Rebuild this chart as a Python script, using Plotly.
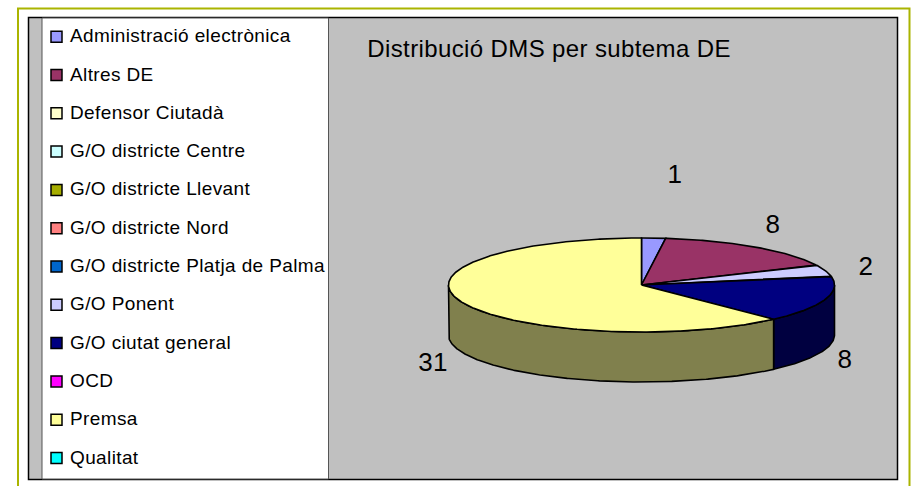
import numpy as np
import plotly.graph_objects as go

# categories in legend order, values
categories = ['Administració electrònica', 'Altres DE', 'Defensor Ciutadà', 'G/O districte Centre',
              'G/O districte Llevant', 'G/O districte Nord', 'G/O districte Platja de Palma', 'G/O Ponent',
              'G/O ciutat general', 'OCD', 'Premsa', 'Qualitat']
values = [1, 8, 0, 0, 0, 0, 0, 2, 8, 0, 31, 0]
colors = ['#9999FF', '#993366', '#FFFFCC', '#CCFFFF', '#A6AD00', '#FF8080', '#0066CC', '#CCCCFF',
          '#000080', '#FF00FF', '#FFFF99', '#00FFFF']
side_colors = {'#000080': '#000040', '#FFFF99': '#80804D'}
title = 'Distribució DMS per subtema DE'

CX, CY, RX, RY, DEPTH = 641.5, 285, 193, 47, 50
FONT = 'Liberation Sans, Arial, sans-serif'
# where the data labels sit, one per non-zero slice
label_pos = [(675, 176), (773, 226), (866, 268), (845, 361), (433, 364)]

fig = go.Figure()


def rim(a0, a1):
    # angles clockwise from the top, projected onto the pie's ellipse
    t = np.radians(np.linspace(a0, a1, max(int(abs(a1 - a0)) * 2, 2)))
    return CX + RX * np.sin(t), CY - RY * np.cos(t)


angles = np.cumsum([0] + values) * 360 / sum(values)

# outer wall, only the front half shows
for i, v in enumerate(values):
    a0, a1 = max(angles[i], 90), min(angles[i + 1], 270)
    if v == 0 or a1 <= a0:
        continue
    x, y = rim(a0, a1)
    fig.add_trace(go.Scatter(
        x=np.r_[x, x[::-1], x[0]], y=np.r_[y, y[::-1] + DEPTH, y[0]],
        mode='lines', fill='toself', fillcolor=side_colors.get(colors[i], colors[i]),
        line=dict(color='black', width=1.6), hoverinfo='skip'))

# top of the pie
for i, v in enumerate(values):
    if v == 0:
        continue
    x, y = rim(angles[i], angles[i + 1])
    fig.add_trace(go.Scatter(
        x=np.r_[CX, x, CX], y=np.r_[CY, y, CY],
        mode='lines', fill='toself', fillcolor=colors[i],
        line=dict(color='black', width=1.6), name=categories[i], hoverinfo='name'))

# data labels
nonzero = [v for v in values if v > 0]
fig.add_trace(go.Scatter(x=[p[0] for p in label_pos], y=[p[1] for p in label_pos], mode='text',
                         text=[str(v) for v in nonzero],
                         textfont=dict(family=FONT, size=26, color='black'), hoverinfo='skip'))

# legend
legend_y = [36.7 + 38.3 * i for i in range(len(categories))]
fig.add_trace(go.Scatter(
    x=[56.5] * len(categories), y=legend_y, mode='markers',
    marker=dict(symbol='square', size=11, color=colors, line=dict(color='black', width=1.5)),
    hoverinfo='skip'))
fig.add_trace(go.Scatter(
    x=[70] * len(categories), y=[y + 0.8 for y in legend_y], mode='text', text=categories,
    textposition='middle right', textfont=dict(family=FONT, size=19, color='black'), hoverinfo='skip'))

fig.add_annotation(x=371, y=48, xref='x', yref='y', xanchor='left', yanchor='middle', text=title,
                   showarrow=False, font=dict(family=FONT, size=24, color='black'))

fig.update_layout(
    width=914, height=486, margin=dict(l=0, r=0, t=0, b=0), showlegend=False,
    paper_bgcolor='white', plot_bgcolor='white',
    xaxis=dict(range=[0, 914], visible=False, fixedrange=True),
    yaxis=dict(range=[486, 0], visible=False, fixedrange=True),
    shapes=[
        # olive outer border, open at the bottom
        dict(type='path', path='M 18 486 L 18 8.5 L 909.5 8.5 L 909.5 486', line=dict(color='#AAB400', width=2), layer='below'),
        # grey chart area and white legend box
        dict(type='rect', x0=28.5, y0=17.5, x1=897.5, y1=479.5, fillcolor='#C0C0C0', line=dict(color='black', width=1.5), layer='below'),
        dict(type='rect', x0=42, y0=18, x1=328.5, y1=479, fillcolor='white', line=dict(color='#555555', width=1), layer='below'),
    ])

# the page's default body margin would push the figure 8px down and right;
# the original's text is also set a little wider than plain Arial
post = ("document.body.style.margin='0';"
        "document.head.insertAdjacentHTML('beforeend',"
        "'<style>.textpoint text,.annotation-text{letter-spacing:.38px}</style>');")
fig.write_html('out.html', config=dict(displayModeBar=False), post_script=post)
